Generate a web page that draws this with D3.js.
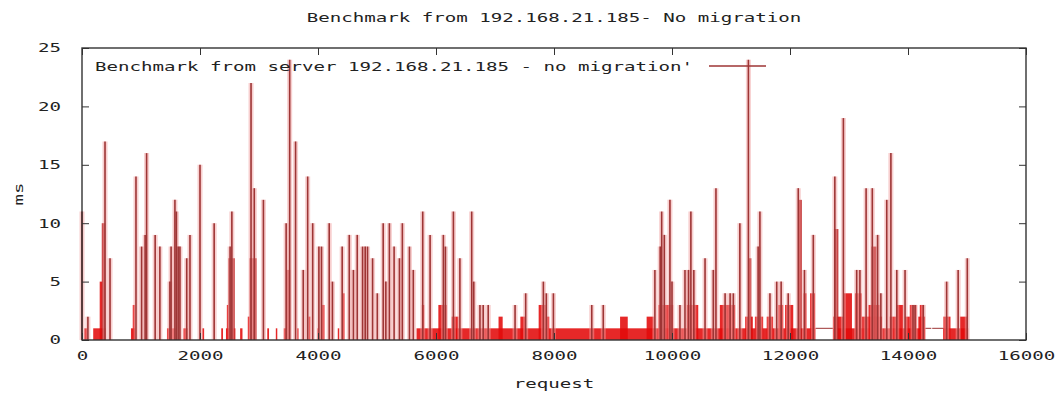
<!DOCTYPE html>
<html>
<head>
<meta charset="utf-8">
<script src="https://cdn.jsdelivr.net/npm/d3@7"></script>
<style>
  body { margin: 0; background: #fff; }
  svg text { font-family: "DejaVu Sans Mono", monospace; font-size: 12px; fill: #222; }
</style>
</head>
<body>
<div id="chart"></div>
<script>
const title = 'Benchmark from 192.168.21.185- No migration';
const seriesName = "Benchmark from server 192.168.21.185 - no migration'";
const xLabel = 'request';
const yLabel = 'ms';
const xTicks = [0, 2000, 4000, 6000, 8000, 10000, 12000, 14000, 16000];
const yTicks = [0, 5, 10, 15, 20, 25];

// single tall requests: [request, ms]
const spikes = [
  [0, 11], [100, 2], [390, 17], [475, 7], [915, 14], [1010, 8], [1070, 9], [1095, 16],
  [1240, 9], [1320, 8], [1490, 5], [1510, 8], [1575, 12], [1600, 11], [1630, 8], [1660, 8],
  [1775, 7], [1830, 9], [2000, 15], [2240, 10], [2510, 8], [2540, 11], [2865, 22], [2920, 13],
  [3075, 12], [3460, 10], [3520, 24], [3620, 17], [3750, 6], [3825, 14], [3910, 10], [4015, 8],
  [4060, 8], [4190, 10], [4245, 5], [4410, 8], [4530, 9], [4600, 6], [4665, 9], [4755, 8],
  [4800, 8], [4840, 8], [4925, 7], [5005, 4], [5105, 10], [5150, 5], [5210, 10], [5290, 8],
  [5380, 7], [5430, 10], [5550, 8], [5615, 6], [5775, 11], [5900, 9], [6125, 9], [6160, 8],
  [6295, 11], [6405, 7], [6605, 11], [6640, 5], [6745, 3], [6800, 3], [6885, 3], [7340, 3],
  [7520, 4], [7820, 5], [7870, 4], [7990, 4], [8640, 3], [8835, 3], [9710, 6], [9800, 8],
  [9825, 11], [9870, 9], [9965, 12], [10000, 5], [10135, 3], [10220, 6], [10280, 6], [10320, 11],
  [10370, 6], [10560, 7], [10700, 6], [10745, 13], [10900, 4], [10985, 4], [11040, 4], [11150, 10],
  [11295, 24], [11460, 8], [11490, 11], [11660, 4], [11775, 5], [11850, 5], [11970, 4], [12140, 13],
  [12245, 6], [12395, 9], [12760, 14], [12905, 19], [13130, 6], [13185, 6], [13290, 13], [13395, 13],
  [13485, 9], [13540, 4], [13640, 12], [13710, 16], [13810, 6], [13950, 6], [14085, 3], [14120, 3],
  [14260, 3], [14655, 5], [14850, 6], [15005, 7]
];

// dense runs of requests: [first request, last request, ms]
const bursts = [
  [40, 90, 1], [190, 400, 1], [300, 345, 5], [335, 395, 10], [830, 900, 1], [860, 895, 3],
  [1440, 1610, 1], [1720, 1790, 1], [2040, 2070, 1], [2360, 2390, 1], [2440, 2600, 1], [2455, 2480, 3],
  [2480, 2590, 7], [2680, 2720, 1], [2810, 2840, 2], [2840, 2960, 7], [3140, 3170, 1], [3285, 3310, 1],
  [3420, 3460, 1], [3460, 3530, 6], [3645, 3670, 1], [3840, 3870, 2], [3990, 4010, 1], [4070, 4110, 3],
  [4335, 4360, 1], [4420, 4450, 4], [5670, 9700, 1], [5760, 5800, 3], [6040, 6180, 3], [6265, 6380, 2],
  [7060, 7130, 2], [7430, 7520, 2], [7740, 7860, 3], [7860, 7920, 2], [9120, 9250, 2], [9570, 9690, 2],
  [9700, 12430, 1], [9770, 10020, 3], [10250, 10445, 3], [10810, 11070, 3], [11240, 11370, 2], [11290, 11345, 7],
  [11405, 11545, 2], [11605, 11715, 2], [11800, 11885, 3], [11915, 12055, 3], [12140, 12200, 12], [12230, 12280, 4],
  [12340, 12425, 4], [12730, 14290, 1], [12730, 12920, 2], [12745, 12820, 9.5], [12900, 13050, 4], [13100, 13215, 4],
  [13215, 13560, 2], [13330, 13520, 3], [13380, 13465, 8], [13690, 13810, 2], [13810, 13920, 3], [13950, 14030, 2],
  [14030, 14145, 3], [14175, 14290, 2], [14200, 14260, 3], [14600, 15020, 1], [14600, 14720, 2], [14880, 15005, 2]
];

// flat stretches where every request took the same time: [first, last, ms]
const flats = [[12430, 12730, 1], [14290, 14395, 1], [14410, 14600, 1]];

const width = 1063, height = 394;
const margin = { top: 48, right: 37, bottom: 54, left: 82 };
const charW = 11.5;
const lineColor = '#9e3535';

const svg = d3.select('#chart').append('svg')
  .attr('width', width)
  .attr('height', height);

const xScale = d3.scaleLinear().domain([0, 16000]).range([margin.left, width - margin.right]);
const yScale = d3.scaleLinear().domain([0, 25]).range([height - margin.bottom, margin.top]);

// stretch the mono font so it looks like the wide gnuplot font
function stretch(sel) {
  sel.attr('textLength', function() { return this.textContent.length * charW; })
    .attr('lengthAdjust', 'spacingAndGlyphs');
}

const plot = svg.append('g');

plot.selectAll('rect.burst')
  .data(bursts)
  .enter().append('rect')
  .attr('class', 'burst')
  .attr('x', d => xScale(d[0]))
  .attr('width', d => xScale(d[1]) - xScale(d[0]))
  .attr('y', d => yScale(d[2]))
  .attr('height', d => yScale(0) - yScale(d[2]))
  .attr('fill', d => d[2] > 5 ? '#b81818' : '#e30a0a')
  .attr('opacity', 0.88);

plot.selectAll('line.flat')
  .data(flats)
  .enter().append('line')
  .attr('x1', d => xScale(d[0]))
  .attr('x2', d => xScale(d[1]))
  .attr('y1', d => yScale(d[2]))
  .attr('y2', d => yScale(d[2]))
  .attr('stroke', lineColor)
  .attr('stroke-width', 1);

// soft halo, then the spike itself
plot.selectAll('line.halo')
  .data(spikes)
  .enter().append('line')
  .attr('x1', d => xScale(d[0]))
  .attr('x2', d => xScale(d[0]))
  .attr('y1', yScale(0))
  .attr('y2', d => yScale(d[1]))
  .attr('stroke', '#f2a0a0')
  .attr('stroke-width', 5)
  .attr('opacity', 0.5);

plot.selectAll('line.spike')
  .data(spikes)
  .enter().append('line')
  .attr('x1', d => xScale(d[0]))
  .attr('x2', d => xScale(d[0]))
  .attr('y1', yScale(0))
  .attr('y2', d => yScale(d[1]))
  .attr('stroke', lineColor)
  .attr('stroke-width', 1.6);

// axes, ticks pointing inward and mirrored
const x0 = margin.left, x1 = width - margin.right;
const y0 = height - margin.bottom, y1 = margin.top;

svg.append('g')
  .attr('transform', `translate(0, ${y0})`)
  .call(d3.axisBottom(xScale).tickValues(xTicks).tickFormat(d3.format('d'))
    .tickSizeInner(-7).tickSizeOuter(0).tickPadding(11));
svg.append('g')
  .attr('transform', `translate(${x0}, 0)`)
  .call(d3.axisLeft(yScale).tickValues(yTicks).tickFormat(d3.format('d'))
    .tickSizeInner(-7).tickSizeOuter(0).tickPadding(21));
svg.append('g')
  .attr('transform', `translate(0, ${y1})`)
  .call(d3.axisTop(xScale).tickValues(xTicks).tickSizeInner(-7).tickSizeOuter(0).tickFormat(''));
svg.append('g')
  .attr('transform', `translate(${x1}, 0)`)
  .call(d3.axisRight(yScale).tickValues(yTicks).tickSizeInner(-7).tickSizeOuter(0).tickFormat(''));

svg.selectAll('.domain').remove();
svg.selectAll('.tick line').attr('stroke', '#333');
svg.selectAll('.tick text')
  .attr('font-family', null)
  .attr('font-size', null)
  .style('fill', '#222')
  .call(stretch);

svg.append('rect')
  .attr('x', x0).attr('y', y1)
  .attr('width', x1 - x0).attr('height', y0 - y1)
  .attr('fill', 'none')
  .attr('stroke', '#333')
  .attr('stroke-width', 1.4);

// texts
svg.append('text')
  .attr('x', (x0 + x1) / 2).attr('y', 22)
  .attr('text-anchor', 'middle')
  .text(title)
  .call(stretch);

svg.append('text')
  .attr('x', (x0 + x1) / 2).attr('y', 388)
  .attr('text-anchor', 'middle')
  .text(xLabel)
  .call(stretch);

svg.append('text')
  .attr('transform', `translate(23, ${(y0 + y1) / 2}) rotate(-90)`)
  .attr('text-anchor', 'middle')
  .text(yLabel)
  .call(stretch);

// key
svg.append('text')
  .attr('x', 95).attr('y', 71)
  .text(seriesName)
  .call(stretch);

svg.append('line')
  .attr('x1', 709).attr('x2', 766)
  .attr('y1', 66).attr('y2', 66)
  .attr('stroke', lineColor)
  .attr('stroke-width', 1.4);
</script>
</body>
</html>
